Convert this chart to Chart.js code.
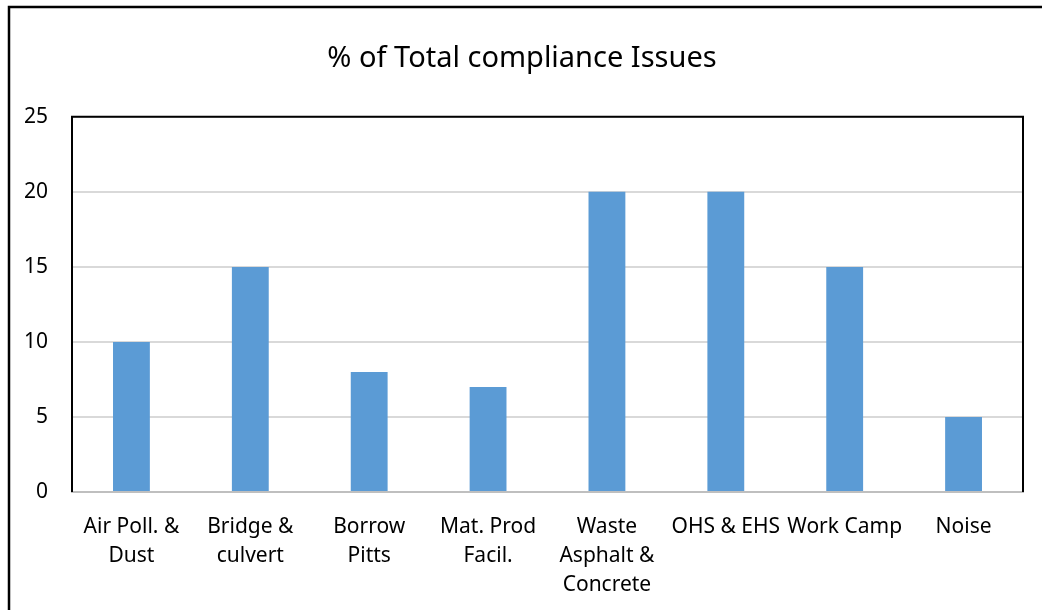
<!DOCTYPE html>
<html>
<head>
<meta charset="utf-8">
<script src="https://cdn.jsdelivr.net/npm/chart.js@4"></script>
<style>
  html, body { margin: 0; padding: 0; background: #fff; }
  #wrap { width: 1042px; height: 610px; position: relative; }
</style>
</head>
<body>
<div id="wrap"><canvas id="c" width="1042" height="610"></canvas></div>
<script>
const chartTitle = "% of Total compliance Issues";
const categories = [
  ["Air Poll. &", "Dust"],
  ["Bridge &", "culvert"],
  ["Borrow", "Pitts"],
  ["Mat. Prod", "Facil."],
  ["Waste", "Asphalt &", "Concrete"],
  ["OHS & EHS"],
  ["Work Camp"],
  ["Noise"]
];
const percentValues = [10, 15, 8, 7, 20, 20, 15, 5];
const yTicks = [0, 5, 10, 15, 20, 25];

const FONT = "'Noto Sans', 'Open Sans', sans-serif";

// Outer frame of the chart object and the dark border around the plot area
const framePlugin = {
  id: 'frames',
  beforeDraw(chart) {
    const ctx = chart.ctx;
    ctx.save();
    ctx.fillStyle = '#ffffff';
    ctx.fillRect(0, 0, chart.width, chart.height);
    ctx.strokeStyle = '#000000';
    ctx.lineWidth = 2.5;
    ctx.beginPath();
    ctx.moveTo(9, chart.height + 5);
    ctx.lineTo(9, 7);
    ctx.lineTo(chart.width + 5, 7);
    ctx.stroke();
    ctx.restore();
  },
  afterDraw(chart) {
    const a = chart.chartArea;
    const ctx = chart.ctx;
    ctx.save();
    ctx.strokeStyle = '#000000';
    ctx.lineWidth = 2;
    ctx.beginPath();
    ctx.moveTo(a.left, a.bottom);
    ctx.lineTo(a.left, a.top);
    ctx.lineTo(a.right, a.top);
    ctx.lineTo(a.right, a.bottom);
    ctx.stroke();
    ctx.restore();
  }
};

new Chart(document.getElementById('c'), {
  type: 'bar',
  data: {
    labels: categories,
    datasets: [{
      data: percentValues,
      backgroundColor: '#5B9BD5',
      borderWidth: 0,
      barPercentage: 0.31,
      categoryPercentage: 1.0
    }]
  },
  options: {
    responsive: false,
    animation: false,
    layout: { padding: { left: 21, right: 19, top: 0, bottom: 0 } },
    plugins: {
      legend: { display: false },
      tooltip: { enabled: false },
      title: {
        display: true,
        text: chartTitle,
        color: '#000000',
        font: { family: FONT, size: 29, weight: 'normal', lineHeight: 1.2 },
        padding: { top: 41, bottom: 41 }
      }
    },
    scales: {
      x: {
        grid: { display: false, drawTicks: false },
        border: { display: true, color: '#bfbfbf', width: 2 },
        ticks: {
          color: '#000000',
          font: { family: FONT, size: 21, lineHeight: 1.38 },
          padding: 21,
          maxRotation: 0,
          minRotation: 0,
          autoSkip: false
        },
        afterFit(scale) { scale.height = 118; }
      },
      y: {
        min: 0,
        max: 25,
        afterBuildTicks(scale) { scale.ticks = yTicks.map(v => ({ value: v })); },
        grid: { color: '#d9d9d9', lineWidth: 2, drawTicks: false },
        border: { display: false },
        ticks: {
          color: '#000000',
          font: { family: FONT, size: 21 },
          padding: 24
        },
        afterFit(scale) { scale.width = 51; }
      }
    }
  },
  plugins: [framePlugin]
});
</script>
</body>
</html>
